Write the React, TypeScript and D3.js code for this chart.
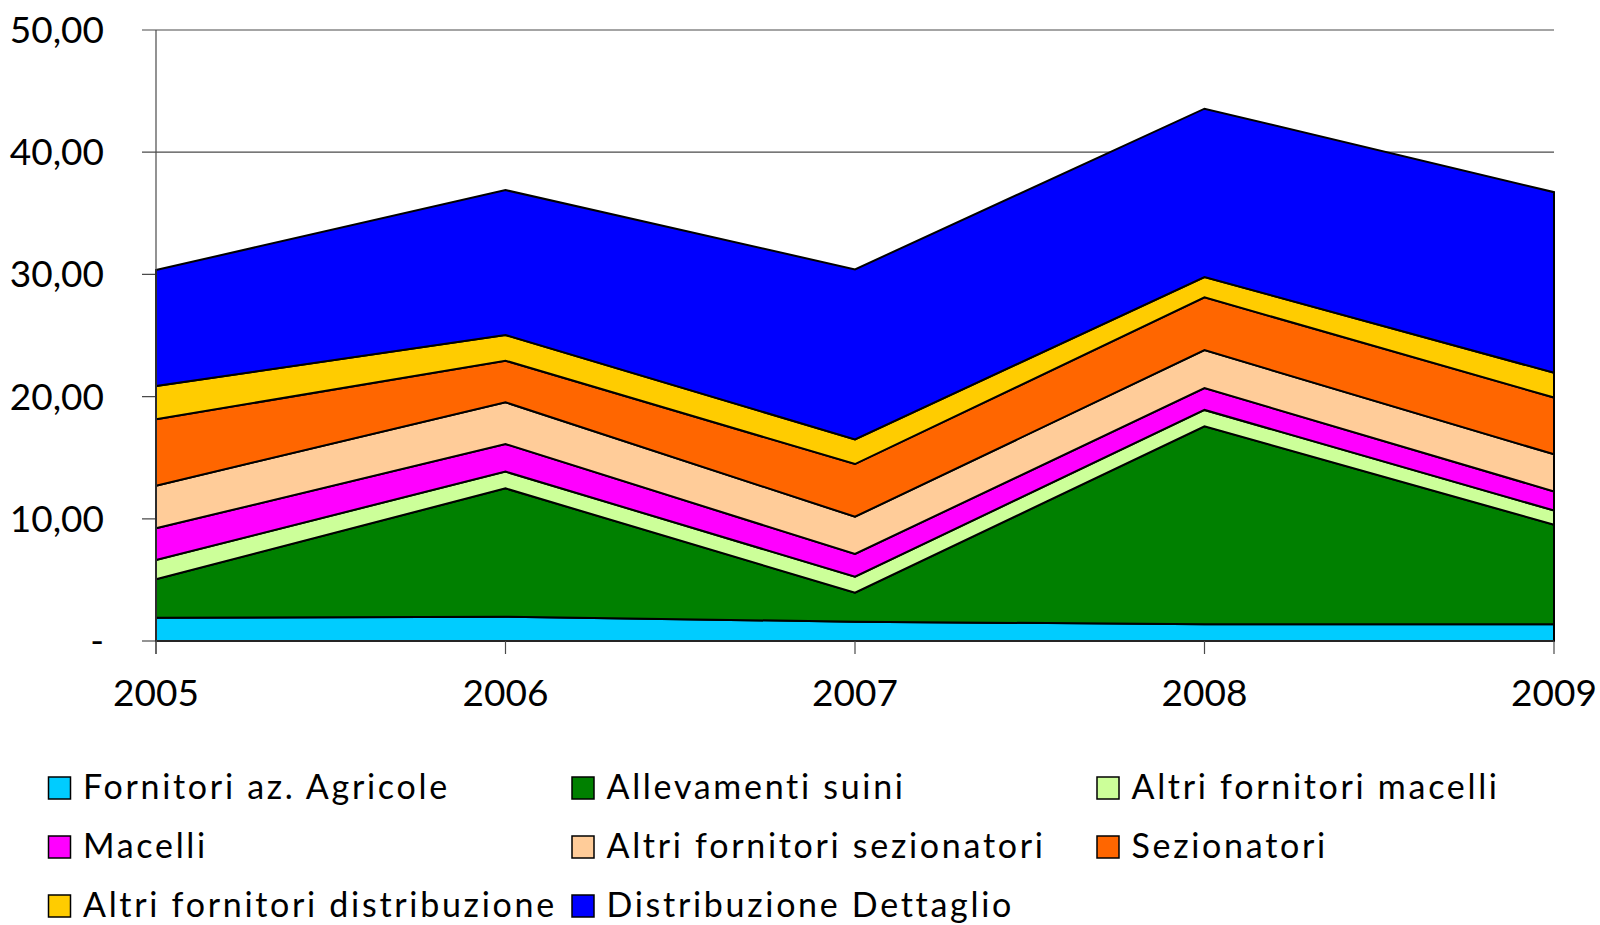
import React from "react";
import * as d3 from "d3";

const years = [2005, 2006, 2007, 2008, 2009];
const seriesNames = [
  "Fornitori az. Agricole",
  "Allevamenti suini",
  "Altri fornitori macelli",
  "Macelli",
  "Altri fornitori sezionatori",
  "Sezionatori",
  "Altri fornitori distribuzione",
  "Distribuzione Dettaglio",
];
const fornitoriAgricole = [1.91, 1.99, 1.58, 1.37, 1.37];
const allevamentiSuini = [3.14, 10.5, 2.37, 16.2, 8.15];
const altriFornitoriMacelli = [1.58, 1.37, 1.31, 1.34, 1.16];
const macelli = [2.59, 2.26, 1.86, 1.79, 1.56];
const altriFornitoriSezionatori = [3.49, 3.41, 3.05, 3.1, 3.04];
const sezionatori = [5.43, 3.41, 4.31, 4.32, 4.64];
const altriFornitoriDistribuzione = [2.73, 2.1, 2.02, 1.66, 2.03];
const distribuzioneDettaglio = [9.49, 11.86, 13.91, 13.78, 14.78];
const seriesValues = [
  fornitoriAgricole,
  allevamentiSuini,
  altriFornitoriMacelli,
  macelli,
  altriFornitoriSezionatori,
  sezionatori,
  altriFornitoriDistribuzione,
  distribuzioneDettaglio,
];
const colors = ["#00CCFF", "#008000", "#CCFF99", "#FF00FF", "#FFCC99", "#FF6600", "#FFCC00", "#0000FF"];
const yTicks = [0, 10, 20, 30, 40, 50];
const yTickLabels = ["-", "10,00", "20,00", "30,00", "40,00", "50,00"];

export default function App() {
  const x = d3.scaleLinear().domain([2005, 2009]).range([156, 1554]);
  const y = d3.scaleLinear().domain([0, 50]).range([641, 30]);

  const rows = years.map((yr, i) => {
    const r: any = { year: yr };
    seriesNames.forEach((n, k) => (r[n] = seriesValues[k][i]));
    return r;
  });
  const stacked = d3.stack<any>().keys(seriesNames)(rows);
  const area = d3
    .area<any>()
    .x((d) => x(d.data.year))
    .y0((d) => y(d[0]))
    .y1((d) => y(d[1]));

  const font = "Lato, 'Open Sans', sans-serif";
  const axisColor = "#4a4a4a";

  const legendCols = [48.5, 572, 1097];
  const legendRows = [799, 858, 917];

  return (
    <svg
      width={1600}
      height={925}
      style={{ position: "absolute", left: 0, top: 0, background: "#fff" }}
      fontFamily={font}
    >
      {yTicks.map((t) => (
        <line key={"g" + t} x1={142} x2={t === 0 ? 156 : 1554} y1={y(t)} y2={y(t)} stroke={axisColor} strokeWidth={1.2} />
      ))}
      {stacked.map((s, k) => (
        <path key={s.key} d={area(s) || ""} fill={colors[k]} stroke="#000" strokeWidth={2} strokeLinejoin="miter" />
      ))}
      <line x1={156} x2={156} y1={30} y2={654} stroke={axisColor} strokeWidth={1.2} />
      <line x1={156} x2={1554} y1={y(0)} y2={y(0)} stroke={axisColor} strokeWidth={1.2} />
      {years.map((yr) => (
        <line key={"t" + yr} x1={x(yr)} x2={x(yr)} y1={y(0)} y2={654} stroke={axisColor} strokeWidth={1.2} />
      ))}
      {yTicks.map((t, i) => (
        <text key={"yl" + t} x={104} y={y(t)} dy="0.35em" textAnchor="end" fontSize={37} fill="#000">
          {yTickLabels[i]}
        </text>
      ))}
      {years.map((yr) => (
        <text key={"xl" + yr} x={x(yr)} y={706} textAnchor="middle" fontSize={37} fill="#000">
          {yr}
        </text>
      ))}
      {seriesNames.map((n, k) => {
        const col = k % 3;
        const row = Math.floor(k / 3);
        const lx = legendCols[col];
        const ly = legendRows[row];
        return (
          <g key={"lg" + k}>
            <rect x={lx} y={ly - 22} width={22} height={22} fill={colors[k]} stroke="#000" strokeWidth={1.5} />
            <text x={lx + 34.5} y={ly} fontSize={34} letterSpacing={2.7} fill="#000">
              {n}
            </text>
          </g>
        );
      })}
    </svg>
  );
}
